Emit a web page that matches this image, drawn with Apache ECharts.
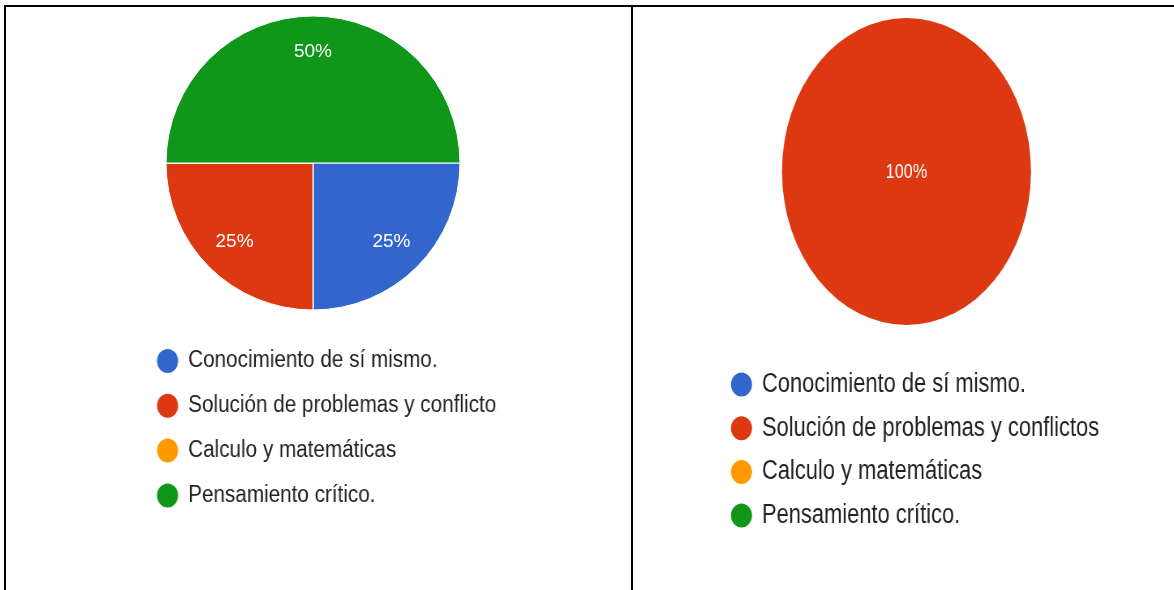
<!DOCTYPE html>
<html>
<head>
<meta charset="utf-8">
<script src="https://cdn.jsdelivr.net/npm/echarts@6/dist/echarts.min.js"></script>
<style>
  body { margin: 0; background: #fff; width: 1174px; height: 590px; overflow: hidden; position: relative; }
  .line { position: absolute; background: #000; }
  #leftPie { position: absolute; left: 6px; top: 7px; width: 491px; height: 330px; }
  /* the source screenshot is squeezed sideways, so these two are narrowed */
  #leftLegend { position: absolute; left: 6px; top: 7px; width: 558px; height: 583px; transform: scaleX(0.88); transform-origin: 0 0; }
  #rightChart { position: absolute; left: 633px; top: 7px; width: 667px; height: 583px; transform: scaleX(0.811); transform-origin: 0 0; }
</style>
</head>
<body>
<div class="line" style="left:4px; top:5px; width:1170px; height:2px;"></div>
<div class="line" style="left:4px; top:5px; width:2px; height:585px;"></div>
<div class="line" style="left:631px; top:5px; width:2px; height:585px;"></div>
<div id="leftLegend"></div>
<div id="leftPie"></div>
<div id="rightChart"></div>
<script>
const categories = [
  'Conocimiento de sí mismo.',
  'Solución de problemas y conflictos',
  'Calculo y matemáticas',
  'Pensamiento crítico.'
];
const leftValues = [25, 25, 0, 50];
const rightValues = [0, 100, 0, 0];

const colors = ['#3366cc', '#dc3912', '#ff9900', '#109618'];
const font = "'Liberation Sans', Arial, sans-serif";

const toData = (values) => categories.map((name, i) => ({ name, value: values[i] }));
const pctLabel = (p) => (p.value ? Math.round(p.percent) + '%' : '');

// ellipse icon that fills the w x h legend box
const dotPath = (w, h) =>
  `path://M0,${h / 2}a${w / 2},${h / 2} 0 1,0 ${w},0a${w / 2},${h / 2} 0 1,0 ${-w},0`;

const legendOf = (left, top, iconW, gap, size, pad) => ({
  orient: 'vertical',
  left,
  top,
  itemWidth: iconW,
  itemHeight: 24,
  itemGap: gap,
  icon: dotPath(iconW, 24),
  selectedMode: false,
  data: categories.map((name, i) => ({ name, itemStyle: { color: colors[i], opacity: 1 } })),
  textStyle: { color: '#222', fontSize: size, fontFamily: font, padding: [0, 0, 0, pad] }
});

// left pie
const leftPie = echarts.init(document.getElementById('leftPie'));
leftPie.setOption({
  animation: false,
  color: colors,
  series: [
    {
      type: 'pie',
      center: [307, 156],
      radius: 147,
      startAngle: 0,
      data: toData(leftValues),
      itemStyle: { borderColor: '#fff', borderWidth: 1 },
      label: { show: false },
      labelLine: { show: false }
    },
    {
      // invisible copy, only used to place the percent labels further out
      type: 'pie',
      center: [307, 156],
      radius: 216,
      startAngle: 0,
      silent: true,
      data: toData(leftValues),
      itemStyle: { color: 'rgba(0,0,0,0)' },
      label: {
        show: true,
        position: 'inside',
        formatter: pctLabel,
        color: '#fff',
        fontSize: 19,
        fontFamily: font
      },
      labelLine: { show: false }
    }
  ]
});

// left legend (needs the series in its own instance, kept invisible)
const leftLegend = echarts.init(document.getElementById('leftLegend'));
leftLegend.setOption({
  animation: false,
  color: colors,
  legend: legendOf(166.6, 337, 24, 20.8, 23.5, 6.4),
  series: [
    {
      type: 'pie',
      center: [349, 156],
      radius: 10,
      silent: true,
      data: toData(leftValues),
      itemStyle: { opacity: 0 },
      label: { show: false },
      labelLine: { show: false }
    }
  ]
});

// right panel
const rightChart = echarts.init(document.getElementById('rightChart'));
rightChart.setOption({
  animation: false,
  color: colors,
  legend: legendOf(115.8, 359, 25.9, 16.7, 27, 7.3),
  series: [
    {
      type: 'pie',
      center: [337.2, 164.5],
      radius: 153.5,
      startAngle: 0,
      data: toData(rightValues),
      label: {
        show: true,
        position: 'center',
        formatter: pctLabel,
        color: '#fff',
        fontSize: 20,
        fontFamily: font,
        offset: [0, 1]
      },
      labelLine: { show: false }
    }
  ]
});
</script>
</body>
</html>
